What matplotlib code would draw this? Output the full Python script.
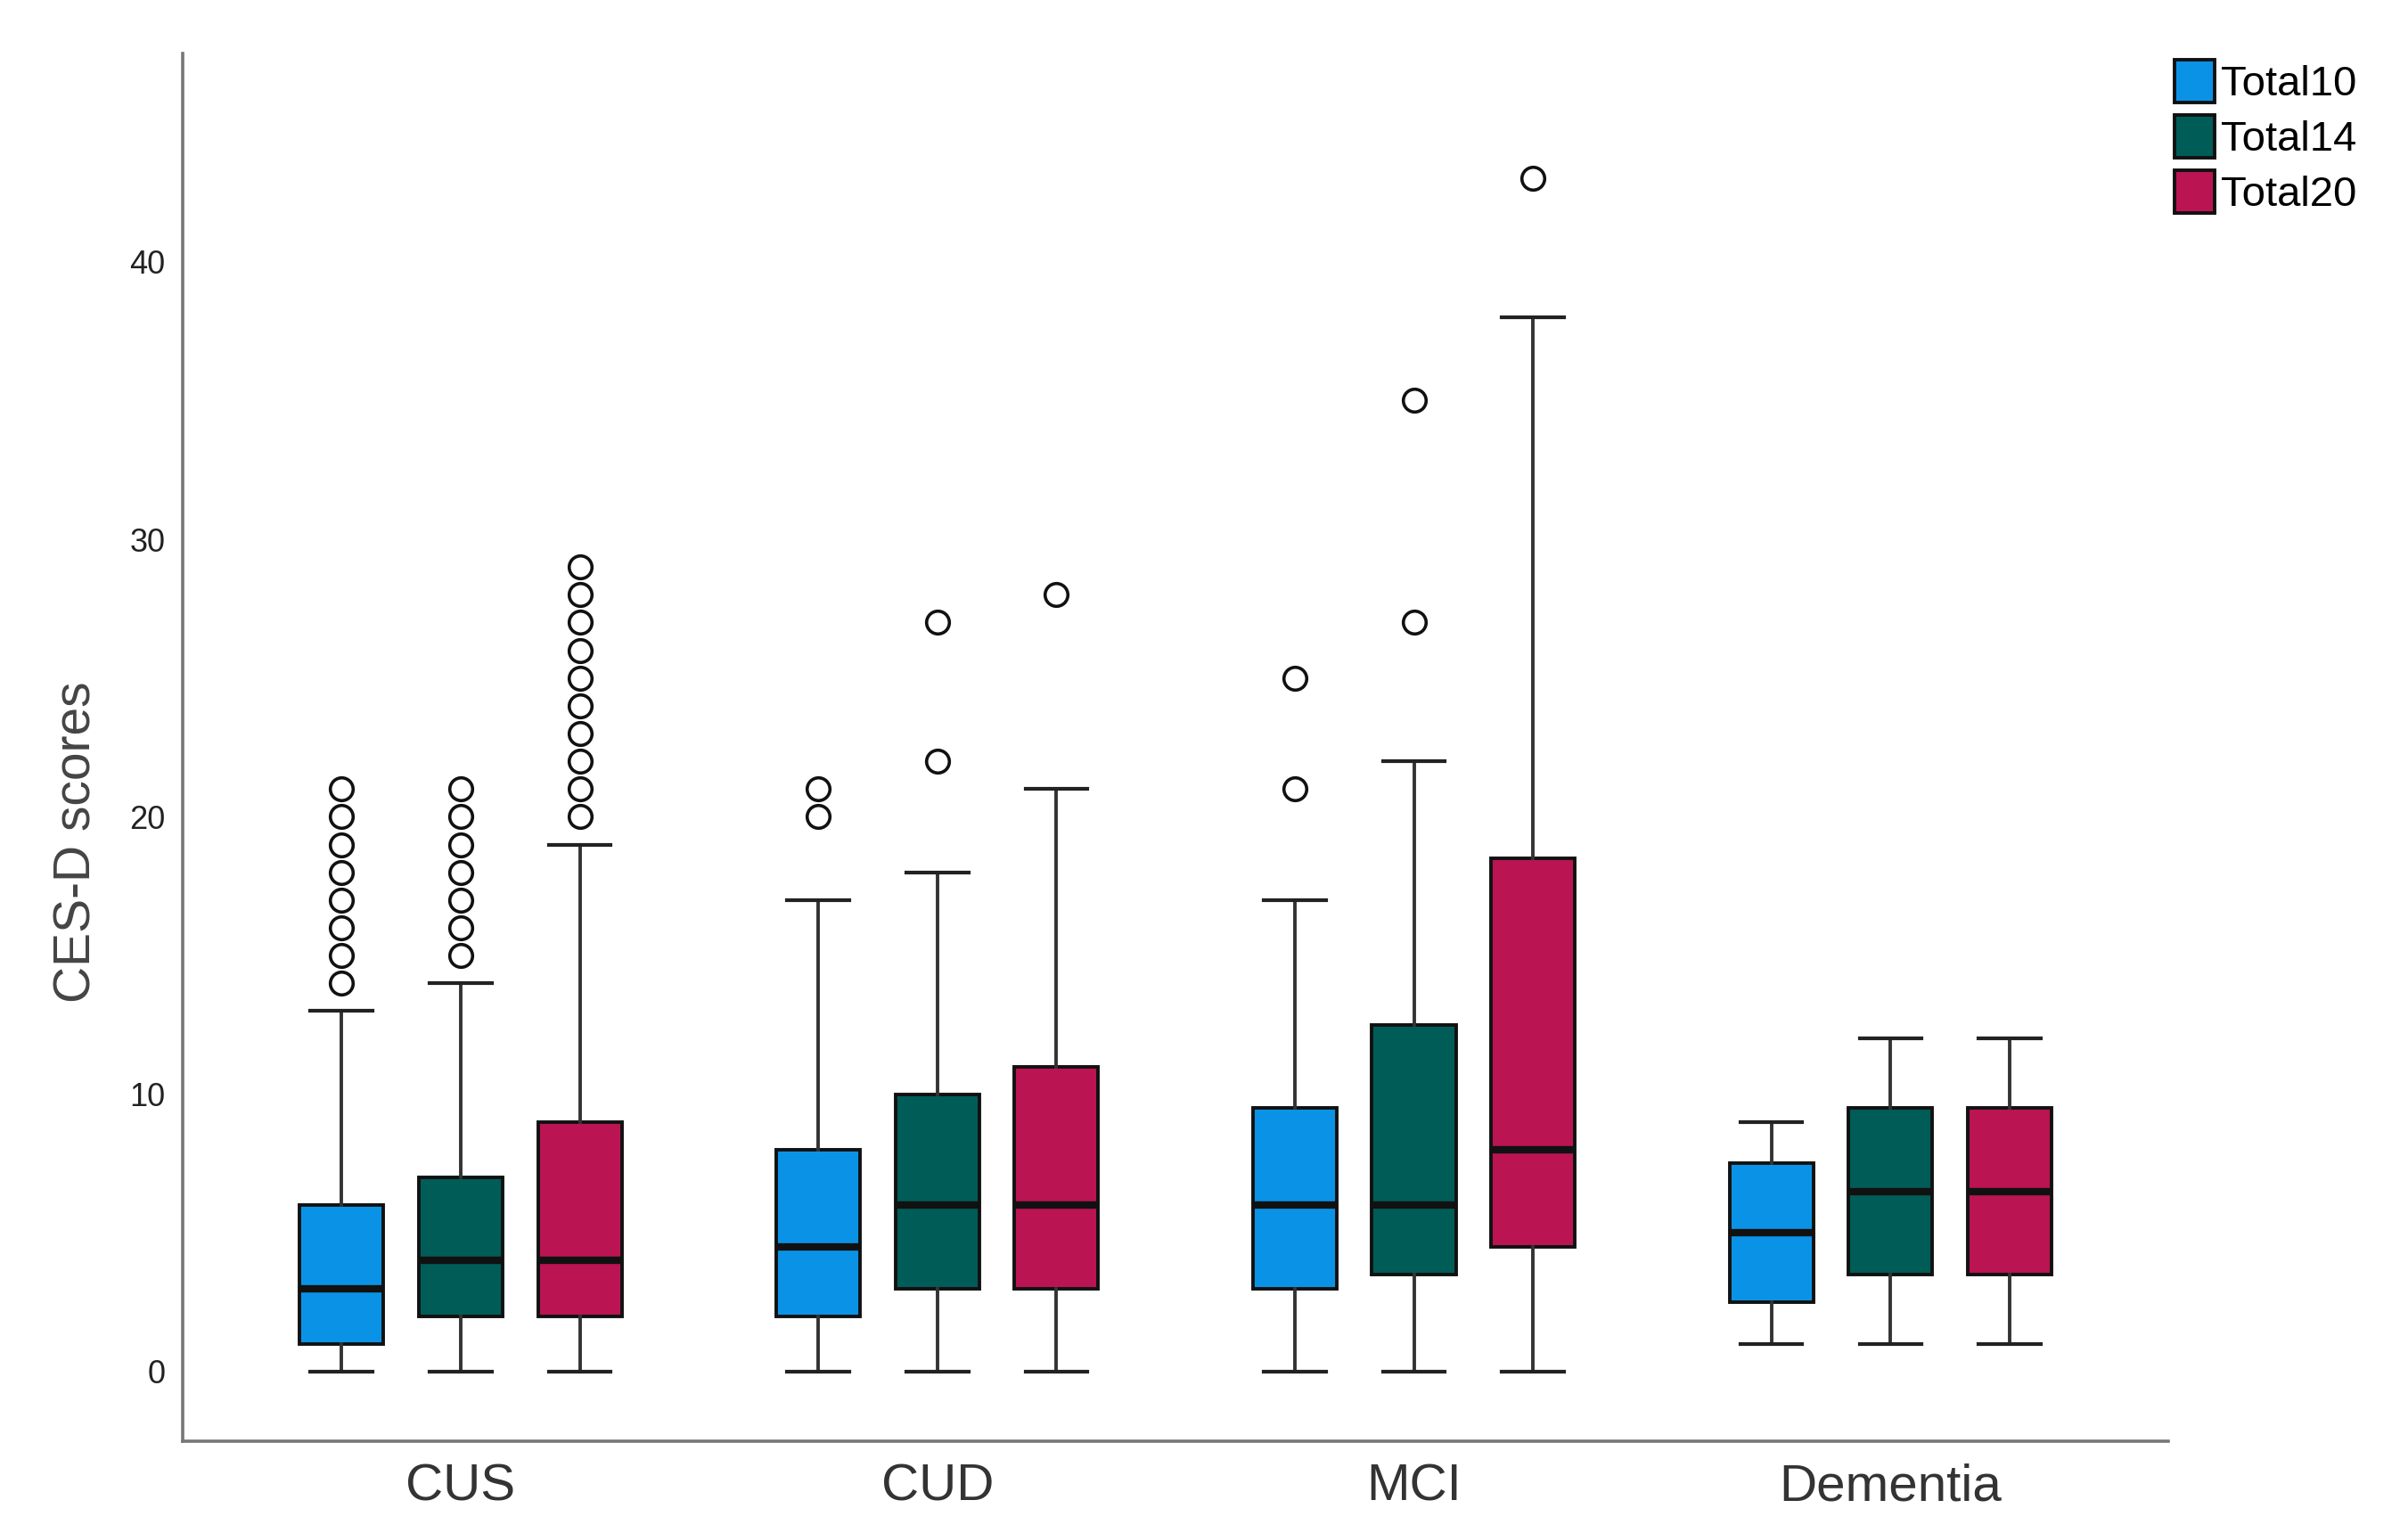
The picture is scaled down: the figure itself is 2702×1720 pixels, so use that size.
import matplotlib
matplotlib.use("Agg")
import matplotlib.pyplot as plt
from matplotlib.patches import Patch

plt.rcParams['font.family'] = ['Liberation Sans', 'DejaVu Sans']

groups = ["CUS", "CUD", "MCI", "Dementia"]
series = ["Total10", "Total14", "Total20"]
colors = ["#0A93E6", "#005C57", "#BA1452"]

# per series: list over groups of (whislo, q1, med, q3, whishi)
t10_stats = [(0, 1, 3, 6, 13), (0, 2, 4.5, 8, 17), (0, 3, 6, 9.5, 17), (1, 2.5, 5, 7.5, 9)]
t14_stats = [(0, 2, 4, 7, 14), (0, 3, 6, 10, 18), (0, 3.5, 6, 12.5, 22), (1, 3.5, 6.5, 9.5, 12)]
t20_stats = [(0, 2, 4, 9, 19), (0, 3, 6, 11, 21), (0, 4.5, 8, 18.5, 38), (1, 3.5, 6.5, 9.5, 12)]

t10_fliers = [[14, 15, 16, 17, 18, 19, 20, 21], [20, 21], [21, 25], []]
t14_fliers = [[15, 16, 17, 18, 19, 20, 21], [22, 27], [27, 35], []]
t20_fliers = [[20, 21, 22, 23, 24, 25, 26, 27, 28, 29], [28], [43], []]

all_stats = [t10_stats, t14_stats, t20_stats]
all_fliers = [t10_fliers, t14_fliers, t20_fliers]

fig = plt.figure(figsize=(13.51, 8.6), dpi=200)
ax = fig.add_axes([0.0759, 0.0599, 0.8246, 0.9052])

offsets = [-0.25, 0.0, 0.25]
width = 0.176
for si in range(3):
    bxp_stats = []
    for gi in range(4):
        lo, q1, med, q3, hi = all_stats[si][gi]
        bxp_stats.append(dict(whislo=lo, q1=q1, med=med, q3=q3, whishi=hi,
                              fliers=all_fliers[si][gi]))
    pos = [gi + offsets[si] for gi in range(4)]
    ax.bxp(bxp_stats, positions=pos, widths=width, patch_artist=True,
           showfliers=True, manage_ticks=False,
           boxprops=dict(facecolor=colors[si], edgecolor="#111111", linewidth=1.4),
           medianprops=dict(color="#111111", linewidth=3.0, solid_capstyle='butt'),
           whiskerprops=dict(color="#333333", linewidth=1.4),
           capprops=dict(color="#222222", linewidth=1.5),
           capwidths=width * 0.74,
           flierprops=dict(marker='o', markersize=9.2, markerfacecolor='white',
                           markeredgecolor='#111111', markeredgewidth=1.3, linestyle='none'),
           zorder=3)

ax.set_xlim(-0.583, 3.583)
ax.set_ylim(-2.506, 47.51)
ax.set_xticks(range(4))
ax.set_xticklabels(groups, fontsize=21, color="#333333")
ax.set_yticks([0, 10, 20, 30, 40])
ax.set_yticklabels(["0", "10", "20", "30", "40"], fontsize=13, color="#222222")
ax.tick_params(axis='both', length=0)
ax.tick_params(axis='x', pad=9)
ax.tick_params(axis='y', pad=7)
ax.set_ylabel("CES-D scores", fontsize=20.5, color="#444444")
ax.yaxis.set_label_coords(-0.0413, 0.4316)

for s in ["top", "right"]:
    ax.spines[s].set_visible(False)
for s in ["left", "bottom"]:
    ax.spines[s].set_color("#777777")
    ax.spines[s].set_linewidth(1.3)

handles = [Patch(facecolor=c, edgecolor="#111111", linewidth=1.4, label=l)
           for c, l in zip(colors, series)]
fig.legend(handles=handles, loc='upper left', bbox_to_anchor=(0.896, 0.972),
           frameon=False, fontsize=17, handlelength=0.95, handleheight=1.2,
           handletextpad=0.15, labelspacing=0.25, borderaxespad=0)

fig.savefig("out.png", dpi=200)
